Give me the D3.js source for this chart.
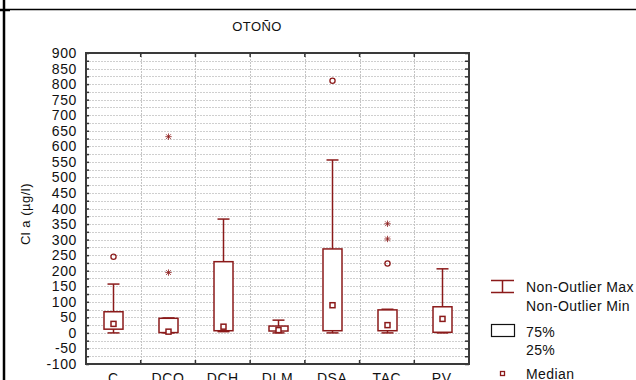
<!DOCTYPE html>
<html>
<head>
<meta charset="utf-8">
<script src="https://cdn.jsdelivr.net/npm/d3@7"></script>
<style>
  body { margin: 0; background: #fff; }
  svg text { font-family: "Liberation Sans", Arial, sans-serif; fill: #111; }
</style>
</head>
<body>
<div id="chart"></div>
<script>
// Data (Cl a, µg/l)
var categories = ["C", "DCO", "DCH", "DLM", "DSA", "TAC", "PV"];
var whiskerLow = [0, 0, 4, 0, 0, 0, 0];
var q1 = [12, 1, 7, 6, 7, 7, 2];
var medians = [29, 4, 20, 9, 89, 25, 45];
var q3 = [68, 47, 229, 22, 270, 74, 84];
var whiskerHigh = [157, 48, 366, 41, 556, 76, 206];
var outliers = [[245], [], [], [], [811], [223], []];
var extremes = [[], [631, 194], [], [], [], [351, 302], []];
var yTicks = d3.range(-100, 901, 50);

var red = "#8b1a1a";
var width = 636, height = 380;
var plot = { left: 86, right: 469, top: 53, bottom: 364 };

var svg = d3.select("#chart").append("svg")
    .attr("width", width)
    .attr("height", height);

// frame lines of the window
svg.append("line").attr("x1", 0).attr("x2", width).attr("y1", 9.5).attr("y2", 9.5)
    .attr("stroke", "#000").attr("stroke-width", 1.5);
svg.append("line").attr("x1", 4).attr("x2", 4).attr("y1", 0).attr("y2", height)
    .attr("stroke", "#000").attr("stroke-width", 2.5);
svg.append("line").attr("x1", 0).attr("x2", 10).attr("y1", 10.5).attr("y2", 10.5)
    .attr("stroke", "#000").attr("stroke-width", 1.5);

var x = d3.scaleBand().domain(categories).range([plot.left, plot.right]);
var y = d3.scaleLinear().domain([-100, 900]).range([plot.bottom, plot.top]);

// grid
var gridVals = d3.range(-75, 900, 25);
svg.append("g").selectAll("line").data(gridVals).enter().append("line")
    .attr("x1", plot.left).attr("x2", plot.right)
    .attr("y1", function(d){ return Math.round(y(d)) + 0.5; })
    .attr("y2", function(d){ return Math.round(y(d)) + 0.5; })
    .attr("stroke", "#cfcfcf").attr("stroke-dasharray", "2,1");

var bounds = categories.slice(1).map(function(d){ return x(d); });
svg.append("g").selectAll("line").data(bounds).enter().append("line")
    .attr("x1", function(d){ return Math.round(d) + 0.5; })
    .attr("x2", function(d){ return Math.round(d) + 0.5; })
    .attr("y1", plot.top).attr("y2", plot.bottom)
    .attr("stroke", "#c4c4c4").attr("stroke-dasharray", "2,1");

// axes (ticks on the inside)
var yLeft = d3.axisRight(y).tickValues(d3.range(-100, 901, 25)).tickSize(3).tickFormat("");
svg.append("g").attr("transform", "translate(" + plot.left + ",0)").call(yLeft);
var yRight = d3.axisLeft(y).tickValues(d3.range(-100, 901, 25)).tickSize(4).tickFormat("");
svg.append("g").attr("transform", "translate(" + plot.right + ",0)").call(yRight);

svg.selectAll(".domain").remove();
svg.selectAll(".tick line").attr("stroke", "#333").attr("stroke-width", 1.5);

// band boundary ticks top and bottom
svg.append("g").selectAll("line").data(bounds).enter().append("line")
    .attr("x1", function(d){ return d; }).attr("x2", function(d){ return d; })
    .attr("y1", plot.top).attr("y2", plot.top + 4)
    .attr("stroke", "#333").attr("stroke-width", 1.5);
svg.append("g").selectAll("line").data(bounds).enter().append("line")
    .attr("x1", function(d){ return d; }).attr("x2", function(d){ return d; })
    .attr("y1", plot.bottom).attr("y2", plot.bottom - 4)
    .attr("stroke", "#333").attr("stroke-width", 1.5);

svg.append("rect")
    .attr("x", plot.left).attr("y", plot.top)
    .attr("width", plot.right - plot.left).attr("height", plot.bottom - plot.top)
    .attr("fill", "none").attr("stroke", "#3a3a3a").attr("stroke-width", 2);

// tick labels
svg.append("g").selectAll("text").data(yTicks).enter().append("text")
    .attr("x", 77).attr("y", function(d){ return y(d); })
    .attr("dy", "0.36em")
    .attr("text-anchor", "end")
    .style("font-size", "14px")
    .style("letter-spacing", "0.6px")
    .text(function(d){ return d; });

svg.append("g").selectAll("text").data(categories).enter().append("text")
    .attr("x", function(d){ return x(d) + x.bandwidth() / 2; })
    .attr("y", 383)
    .attr("text-anchor", "middle")
    .style("font-size", "14px")
    .style("letter-spacing", "0.6px")
    .text(function(d){ return d; });

// title and axis label
svg.append("text").attr("x", 257).attr("y", 31)
    .attr("text-anchor", "middle").style("font-size", "13px")
    .style("letter-spacing", "0.4px")
    .text("OTOÑO");

svg.append("text")
    .attr("transform", "translate(30,214) rotate(-90)")
    .attr("text-anchor", "middle").style("font-size", "13px")
    .style("letter-spacing", "0.5px")
    .text("Cl a (µg/l)");

// boxes
var boxW = 19, capW = 12;
var g = svg.append("g");
categories.forEach(function(c, i){
    var cx = Math.round(x(c) + x.bandwidth() / 2) + 0.5;

    g.append("line")
        .attr("x1", cx).attr("x2", cx)
        .attr("y1", y(whiskerLow[i])).attr("y2", y(whiskerHigh[i]))
        .attr("stroke", red).attr("stroke-width", 1.5);
    [whiskerLow[i], whiskerHigh[i]].forEach(function(v){
        g.append("line")
            .attr("x1", cx - capW / 2).attr("x2", cx + capW / 2)
            .attr("y1", y(v)).attr("y2", y(v))
            .attr("stroke", red).attr("stroke-width", 1.5);
    });

    g.append("rect")
        .attr("x", cx - boxW / 2).attr("y", y(q3[i]))
        .attr("width", boxW).attr("height", y(q1[i]) - y(q3[i]))
        .attr("fill", "#fff").attr("stroke", red).attr("stroke-width", 1.5);

    g.append("rect")
        .attr("x", cx - 2.5).attr("y", y(medians[i]) - 2.5)
        .attr("width", 5).attr("height", 5)
        .attr("fill", "#fff").attr("stroke", red).attr("stroke-width", 1.5);

    outliers[i].forEach(function(v){
        g.append("circle")
            .attr("cx", cx).attr("cy", y(v)).attr("r", 2.6)
            .attr("fill", "none").attr("stroke", red).attr("stroke-width", 1.3);
    });

    extremes[i].forEach(function(v){
        var yy = y(v), s = 3.2;
        g.append("path")
            .attr("d", "M" + (cx - s) + "," + yy + "H" + (cx + s) +
                       "M" + cx + "," + (yy - s) + "V" + (yy + s) +
                       "M" + (cx - s + 0.8) + "," + (yy - s + 0.8) + "L" + (cx + s - 0.8) + "," + (yy + s - 0.8) +
                       "M" + (cx - s + 0.8) + "," + (yy + s - 0.8) + "L" + (cx + s - 0.8) + "," + (yy - s + 0.8))
            .attr("stroke", red).attr("stroke-width", 0.8).attr("fill", "none");
    });
});

// legend
var legend = svg.append("g").attr("class", "legend");
legend.append("path")
    .attr("d", "M491,280.5H514M502.5,280.5V292.5M491,292.5H514")
    .attr("stroke", red).attr("stroke-width", 1.5).attr("fill", "none");
legend.append("rect")
    .attr("x", 491.5).attr("y", 324.5).attr("width", 23).attr("height", 12)
    .attr("fill", "#fff").attr("stroke", "#111").attr("stroke-width", 1.2);
legend.append("rect")
    .attr("x", 500.5).attr("y", 371.5).attr("width", 4).attr("height", 4)
    .attr("fill", "#fff").attr("stroke", red).attr("stroke-width", 1.3);

var legendText = [
    { t: "Non-Outlier Max", y: 292 },
    { t: "Non-Outlier Min", y: 311 },
    { t: "75%", y: 337 },
    { t: "25%", y: 355 },
    { t: "Median", y: 379 }
];
legend.selectAll("text.lt").data(legendText).enter().append("text")
    .attr("class", "lt")
    .attr("x", 526).attr("y", function(d){ return d.y; })
    .style("font-size", "14px")
    .style("letter-spacing", "0.4px")
    .text(function(d){ return d.t; });
</script>
</body>
</html>
